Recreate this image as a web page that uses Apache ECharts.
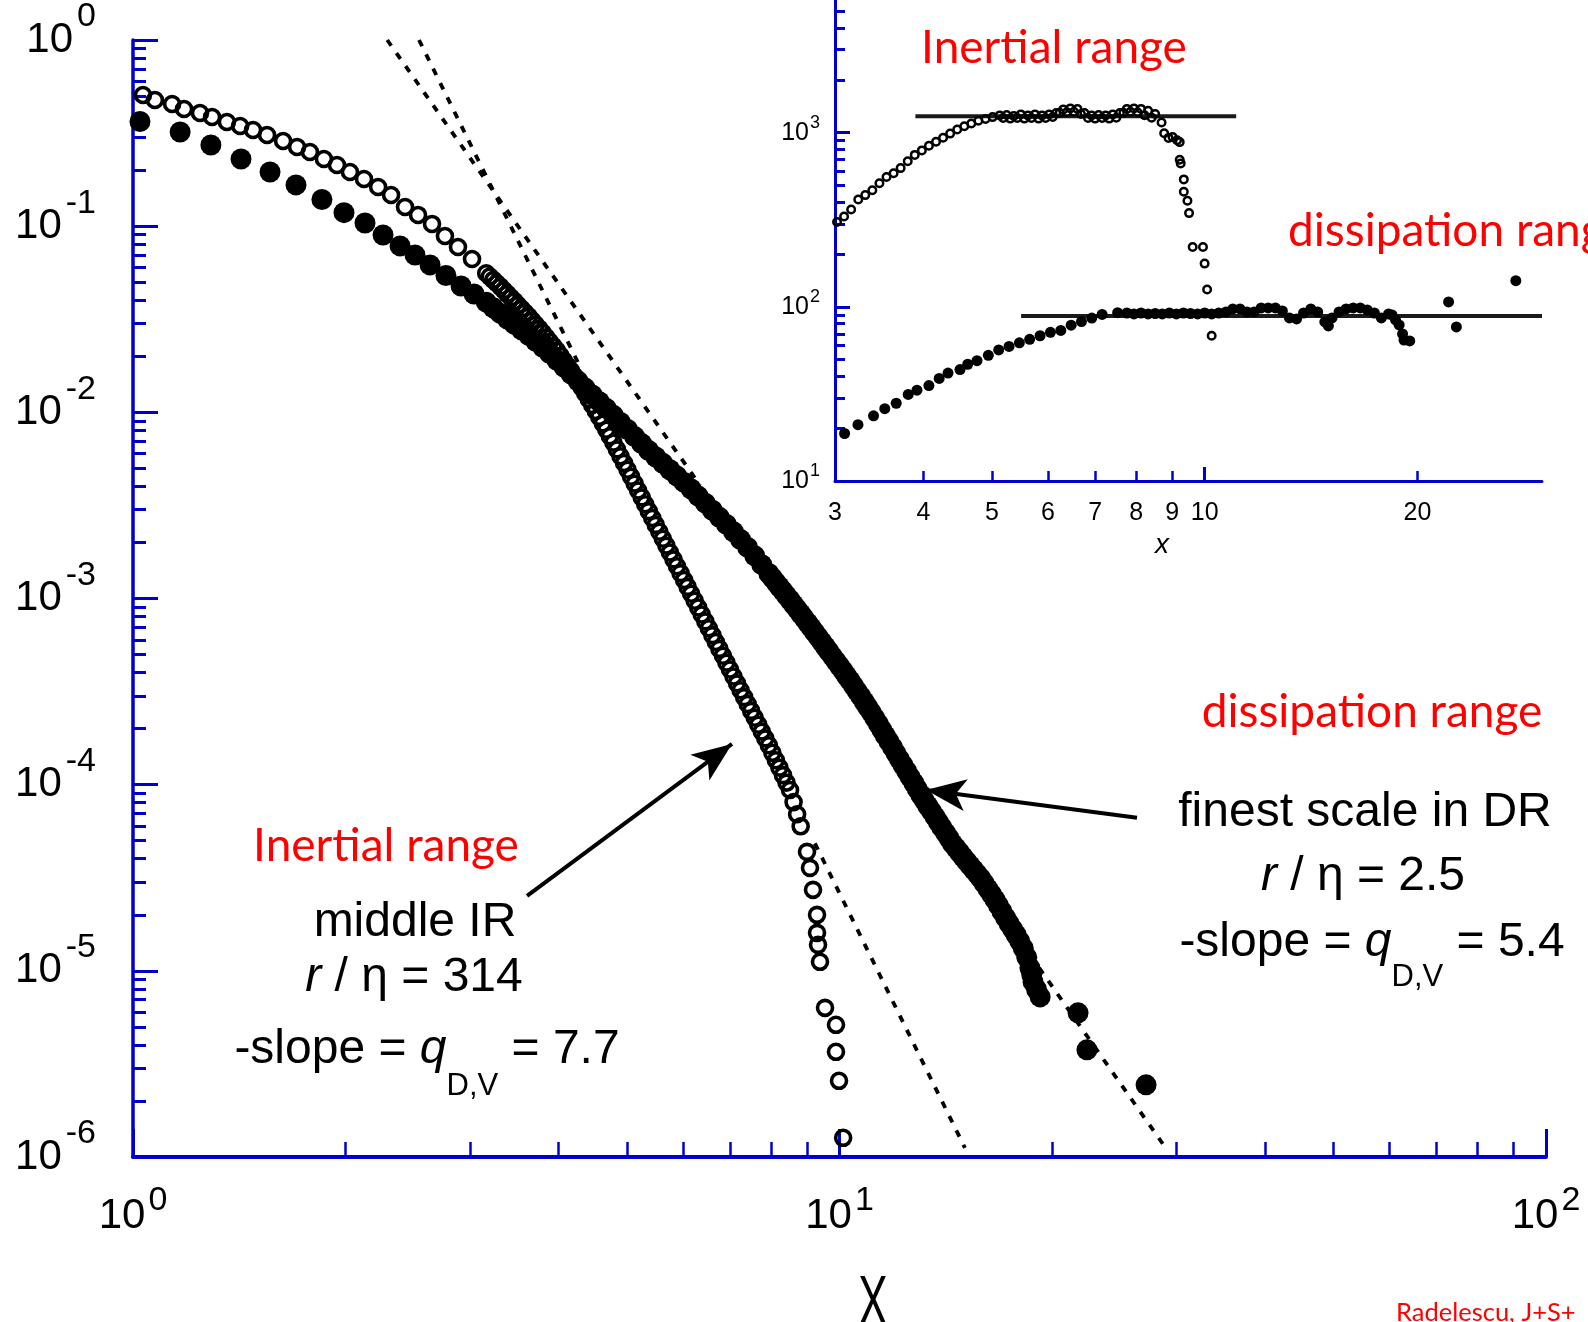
<!DOCTYPE html>
<html>
<head>
<meta charset="utf-8">
<script src="https://cdn.jsdelivr.net/npm/echarts/dist/echarts.min.js"></script>
<style>
  html, body { margin: 0; padding: 0; background: #ffffff; }
  #chart { width: 1588px; height: 1322px; }
</style>
</head>
<body>
<div id="chart"></div>
<script>
// ---------- main panel: PDF tails ----------
// open circles: middle of the inertial range (r/eta = 314)
const openX = [1.033,1.074,1.136,1.181,1.244,1.294,1.358,1.418,1.479,1.548,1.631,1.707,1.780,1.863,1.944,2.028,2.123,2.223,2.319,2.427,2.532,2.650,2.764,2.884,3.019,
  3.162,3.199,3.236,3.273,3.311,3.349,3.388,3.427,3.467,3.507,3.548,3.589,3.631,3.673,3.715,3.758,3.802,3.846,3.890,3.935,
  3.981,4.027,4.074,4.121,4.169,4.217,4.266,4.315,4.365,4.416,4.467,4.519,4.571,4.624,4.677,4.731,4.786,4.841,4.898,4.955,
  5.012,5.070,5.129,5.188,5.248,5.309,5.370,5.432,5.495,5.559,5.623,5.688,5.754,5.821,5.888,5.956,6.026,6.096,6.166,6.237,
  6.310,6.383,6.457,6.532,6.607,6.683,6.761,6.839,6.918,6.998,7.079,7.161,7.244,7.328,7.413,7.499,7.586,7.674,7.762,7.852,
  7.943,8.035,8.128,8.222,8.318,8.414,8.511,8.610,8.710,8.811,
  8.995,9.083,9.173,9.294,9.294,9.324,9.384,9.539,9.886,9.886,9.984,10.12];
const openY = [0.5066,0.4762,0.4532,0.4260,0.4054,0.3859,0.3627,0.3452,0.3286,0.3089,0.2868,0.2662,0.2504,0.2296,0.2131,0.1955,0.1792,0.1624,0.1471,0.1268,0.1149,0.1028,0.0886,0.07732,0.06665,
  0.05588,0.05362,0.05144,0.04935,0.04734,0.04527,0.04328,0.04138,0.03956,0.03774,0.03600,0.03433,0.03276,0.03113,0.02960,0.02814,0.02674,0.02531,0.02395,0.02267,
  0.02144,0.02015,0.01893,0.01779,0.01673,0.01561,0.01456,0.01359,0.01269,0.01178,0.01095,0.01017,0.009448,0.008726,0.008059,0.007444,0.006875,0.006321,0.005812,0.005343,
  0.004913,0.004512,0.004143,0.003805,0.003493,0.003208,0.002947,0.002706,0.002485,0.002282,0.002095,0.001924,0.001767,0.001623,0.001490,0.001369,0.001257,0.001154,0.001060,0.0009734,
  0.0008940,0.0008209,0.0007538,0.0006923,0.0006358,0.0005838,0.0005362,0.0004924,0.0004522,0.0004153,0.0003813,0.0003502,0.0003216,0.0002953,0.0002712,0.0002491,0.0002288,0.0002100,0.0001928,0.0001772,
  0.0001627,0.0001483,0.0001353,0.0001234,0.0001125,0.0001026,0.00009361,0.00008059,0.00006934,0.00005974,
  4.356e-5,3.574e-5,2.723e-5,1.999e-5,1.600e-5,1.379e-5,1.118e-5,6.328e-6,5.129e-6,3.673e-6,2.566e-6,1.268e-6];

// filled circles: finest scale in the dissipation range (r/eta = 2.5)
const solidX = [1.023,1.166,1.289,1.422,1.563,1.701,1.851,1.989,2.130,2.259,2.388,2.507,2.633,2.773,2.913,3.039,
  3.162,3.236,3.311,3.388,3.467,3.548,3.631,3.715,3.802,3.890,3.981,4.074,4.169,4.266,4.365,4.467,4.571,4.677,4.786,4.898,
  5.012,5.129,5.248,5.370,5.495,5.623,5.754,5.888,6.026,6.166,6.310,6.457,6.607,6.761,6.918,7.079,7.244,7.413,7.586,7.762,7.943,
  8.035,8.128,8.222,8.318,8.414,8.511,8.610,8.710,8.811,8.913,9.016,9.120,9.226,9.333,9.441,9.550,9.661,9.772,9.886,10.00,
  10.12,10.23,10.35,10.47,10.59,10.72,10.84,10.96,11.09,11.22,11.35,11.48,11.61,11.75,11.89,12.02,12.16,12.30,12.45,12.59,
  12.74,12.88,13.03,13.18,13.33,13.49,13.65,13.80,13.96,14.13,14.29,14.45,14.62,14.79,14.96,15.14,15.31,15.49,15.67,15.85,
  16.03,16.22,16.41,16.60,16.79,16.98,17.18,17.38,17.58,17.78,17.99,18.20,18.41,
  18.60,18.71,18.79,19.01,19.23,21.76,22.40,27.16];
const solidY = [0.365,0.3206,0.2729,0.2296,0.1955,0.1665,0.1391,0.1182,0.1040,0.0897,0.0783,0.0700,0.0619,0.0543,0.0477,0.0432,
  0.03908,0.03644,0.03398,0.03171,0.02967,0.02776,0.02592,0.02407,0.02235,0.02067,0.01902,0.01751,0.01607,0.01472,0.01350,0.01240,0.01141,0.01050,0.009631,0.008825,
  0.008087,0.007409,0.006791,0.006228,0.005757,0.005321,0.004918,0.004546,0.004202,0.003873,0.003548,0.003251,0.002979,0.002730,0.002501,0.002280,0.002072,0.001882,0.001695,0.001520,0.001362,
  1.290e-3,1.221e-3,1.157e-3,1.096e-3,1.037e-3,9.817e-4,9.274e-4,8.762e-4,8.279e-4,7.821e-4,7.389e-4,6.975e-4,6.577e-4,6.199e-4,5.844e-4,5.509e-4,5.194e-4,4.892e-4,4.607e-4,4.338e-4,
  4.084e-4,3.846e-4,3.621e-4,3.396e-4,3.181e-4,2.979e-4,2.790e-4,2.613e-4,2.446e-4,2.276e-4,2.118e-4,1.970e-4,1.833e-4,1.706e-4,1.586e-4,1.473e-4,1.368e-4,1.271e-4,1.180e-4,1.097e-4,
  1.021e-4,9.491e-5,8.827e-5,8.239e-5,7.704e-5,7.204e-5,6.738e-5,6.300e-5,5.891e-5,5.508e-5,5.152e-5,4.826e-5,4.567e-5,4.322e-5,4.090e-5,3.871e-5,3.672e-5,3.484e-5,3.306e-5,3.137e-5,
  2.948e-5,2.757e-5,2.578e-5,2.411e-5,2.247e-5,2.084e-5,1.932e-5,1.795e-5,1.675e-5,1.562e-5,1.445e-5,1.323e-5,1.182e-5,
  1.038e-5,9.55e-6,8.73e-6,7.943e-6,7.244e-6,5.948e-6,3.764e-6,2.442e-6];

// power-law guides, -slope 7.7 and 5.4 (visible pieces only)
const guideSteepTop = [[2.54, 1.0], [4.28, 0.0180]];
const guideSteepBottom = [[9.23, 4.84e-5], [15.05, 1.12e-6]];
const guideShallowTop = [[2.29, 1.0], [6.35, 4.05e-3]];
const guideShallowBottom = [[18.6, 1.22e-5], [28.9, 1.13e-6]];

// annotation arrows [tail, tip]
const arrowIR = [[3.612, 2.53e-5], [7.044, 1.656e-4]];
const arrowDR = [[26.37, 6.64e-5], [13.26, 9.37e-5]];

// ---------- inset: compensated PDFs ----------
const insetOpenX = [3.020,3.090,3.162,3.236,3.311,3.388,3.467,3.548,3.631,3.715,3.802,3.890,3.981,4.074,4.169,4.266,4.365,4.467,4.571,4.677,
  4.786,4.898,5.012,5.129,5.248,5.370,5.495,5.623,5.754,5.888,6.026,6.166,6.310,6.457,6.607,6.761,6.918,7.079,7.244,7.413,
  7.586,7.762,7.943,8.128,8.318,8.511,
  5.188,5.309,5.432,5.559,5.688,5.821,5.956,6.096,6.237,6.383,6.532,6.683,6.839,6.998,7.161,7.328,7.499,7.674,7.852,8.035,8.222,8.414,
  8.690,8.764,8.889,9.006,9.141,9.219,9.219,9.249,9.343,9.343,9.454,9.504,9.616,9.945,9.998,10.08,10.23];
const insetOpenY = [307.4,330.0,362.6,413.4,438.1,467.5,512.8,557.3,585.3,626.1,685.0,745.7,791.3,841.0,886.6,936.0,988.1,1043,1090,1129,
  1170,1199,1229,1257,1265,1249,1274,1257,1274,1257,1274,1299,1361,1379,1370,1299,1257,1265,1257,1274,
  1299,1370,1379,1370,1336,1282,
  1215,1205,1215,1205,1215,1205,1215,1230,1300,1310,1320,1280,1215,1205,1215,1205,1220,1300,1320,1310,1260,1220,
  1144,993.4,933.5,946,904.3,883.1,698.8,666.5,539.5,457.7,406.9,345.3,220.8,220.8,177.1,125.8,68.2];
const insetSolidX = [3.095,3.233,3.401,3.528,3.662,3.808,3.918,4.073,4.212,4.335,4.507,4.622,4.764,4.943,5.113,5.288,5.469,5.655,5.850,6.051,
  6.259,6.473,6.694,6.923,7.161,7.532,
  7.762,7.943,8.128,8.318,8.511,8.710,8.913,9.120,9.333,9.550,9.772,10.00,10.23,10.47,10.72,10.96,11.22,11.48,11.75,12.02,
  12.30,12.59,12.88,13.18,13.49,13.80,14.13,14.45,14.79,14.96,15.14,15.49,15.85,16.22,16.60,16.98,17.38,17.78,18.20,18.41,
  18.62,18.84,19.05,19.14,19.50,
  22.13,22.70,27.55];
const insetSolidY = [18.74,21.06,23.69,26.02,27.95,31.39,33.22,35.32,38.80,41.68,43.65,46.81,49.09,52.65,56.55,59.23,62.12,65.06,68.23,71.46,
  73.17,78.52,82.35,86.25,90.45,92.62,
  92.2,91.0,92.2,91.0,91.6,91.0,92.2,91.0,92.2,91.6,91.0,92.2,91.0,92.2,93.5,97.3,97.3,93.5,93.5,98.6,
  98.6,98.6,94.7,86.4,85.2,92.2,97.3,93.5,81.9,77.7,86.4,93.5,97.3,98.6,98.6,96.0,92.2,86.4,91.0,89.9,
  84.1,78.7,69.9,64.5,63.7,
  106.7,76.7,141.4];
const insetPlateauIR = [[3.898, 1241], [11.08, 1241]];
const insetPlateauDR = [[5.50, 88.5], [30, 88.5]];

// ---------- tick values ----------
const mainXMajor = [1, 10, 100];
const mainYMajor = [1e-6, 1e-5, 1e-4, 1e-3, 1e-2, 1e-1, 1];
const insetXLabels = [3, 4, 5, 6, 7, 8, 9, 10, 20];
const insetXMajor = [10];
const insetXMinor = [4, 5, 6, 7, 8, 9, 20];
const insetYMajor = [10, 100, 1000];
const insetYLabels = [10, 100, 1000];
const insetYTop = 5781;   // value at the upper edge of the inset frame

function minorTicks(loExp, hiExp) {
  const out = [];
  for (let e = loExp; e < hiExp; e++) {
    for (let k = 2; k <= 9; k++) out.push(+(k * Math.pow(10, e)).toPrecision(3));
  }
  return out;
}

const zip = (xs, ys) => xs.map((x, i) => [x, ys[i]]);

const BLUE = '#0000CD';
const SANS = 'Liberation Sans';
const HUMAN = 'Lato';

const powLabel = v => '{b|10}{s|' + Math.round(Math.log10(v)) + '}';
const richY = {
  b: { fontSize: 42, fontFamily: SANS, color: '#000', lineHeight: 80, verticalAlign: 'middle' },
  s: { fontSize: 34, fontFamily: SANS, color: '#000', lineHeight: 34, verticalAlign: 'top', padding: [0, 0, 0, 4] }
};
const richX = {
  b: { fontSize: 42, fontFamily: SANS, color: '#000', lineHeight: 64, verticalAlign: 'middle' },
  s: { fontSize: 34, fontFamily: SANS, color: '#000', lineHeight: 34, verticalAlign: 'top', padding: [0, 0, 0, 3] }
};
const richInset = {
  b: { fontSize: 25, fontFamily: SANS, color: '#000', lineHeight: 38, verticalAlign: 'middle' },
  s: { fontSize: 18, fontFamily: SANS, color: '#000', lineHeight: 18, verticalAlign: 'top', padding: [0, 0, 0, 1] }
};

function axis(gridIndex, pos, min, max, o) {
  return {
    gridIndex, type: 'log', logBase: 10, min, max, position: pos,
    axisLine: { show: o.line !== false, onZero: false, lineStyle: { color: BLUE, width: o.lineWidth || 3 } },
    axisTick: { show: true, inside: true, length: o.tickLen, lineStyle: { color: BLUE, width: o.tickWidth || 3 }, customValues: o.ticks },
    axisLabel: o.labels ? Object.assign({ show: true, customValues: o.labels }, o.labelOpt) : { show: false },
    splitLine: { show: false },
    minorTick: { show: false },
    minorSplitLine: { show: false }
  };
}

const guide = data => ({
  type: 'line', xAxisIndex: 0, yAxisIndex: 0, data, symbol: 'none', silent: true, z: 2,
  lineStyle: { color: '#000', width: 3.8, type: [7, 9], cap: 'butt' }
});
const plateau = data => ({
  type: 'line', xAxisIndex: 2, yAxisIndex: 2, data, symbol: 'none', silent: true, z: 2,
  lineStyle: { color: '#1a1a1a', width: 4, type: 'solid' }
});

const text = (str, x, y, size, color, family, extra) => ({
  type: 'text', x, y, silent: true,
  style: Object.assign({ text: str, fill: color, font: size + 'px "' + family + '"', align: 'center', verticalAlign: 'middle' }, extra || {})
});
const ratioRich = {
  n: { fontSize: 48, fontFamily: SANS, fill: '#000' },
  i: { fontSize: 48, fontFamily: SANS, fontStyle: 'italic', fill: '#000' }
};

// "-slope = q_{D,V} = value" built from measured pieces, centred on cx
const measureCtx = document.createElement('canvas').getContext('2d');
function slopeLine(cx, cy, value, subDy) {
  const fN = '48px "Liberation Sans"';
  const fI = 'italic 48px "Liberation Sans"';
  const fS = '31px "Liberation Sans"';
  const parts = [
    { t: '-slope = ', f: fN, dy: 0 },
    { t: 'q', f: fI, dy: 0 },
    { t: 'D,V', f: fS, dy: subDy },
    { t: ' = ' + value, f: fN, dy: 0 }
  ];
  const widths = parts.map(p => { measureCtx.font = p.f; return measureCtx.measureText(p.t).width; });
  let x = cx - widths.reduce((a, b) => a + b, 0) / 2;
  return parts.map((p, i) => {
    const el = { type: 'text', x, y: cy + p.dy, silent: true,
      style: { text: p.t, font: p.f, fill: '#000', align: 'left', verticalAlign: 'middle' } };
    x += widths[i];
    return el;
  });
}

const openRing = (size, border) => ({
  symbol: 'circle', symbolSize: size,
  itemStyle: { color: 'rgba(0,0,0,0)', borderColor: '#000', borderWidth: border, opacity: 1 }
});
const solidDot = size => ({ symbol: 'circle', symbolSize: size, itemStyle: { color: '#000', opacity: 1 } });

const chart = echarts.init(document.getElementById('chart'), null, { renderer: 'canvas' });
chart.setOption({
  animation: false,
  backgroundColor: '#ffffff',
  grid: [
    { left: 133, top: 40, width: 1413, height: 1117, containLabel: false },
    { left: 835, top: 0, width: 707, height: 481, containLabel: false }
  ],
  xAxis: [
    axis(0, 'bottom', 1, 100, { lineWidth: 4, tickLen: 28, ticks: mainXMajor, labels: mainXMajor,
      labelOpt: { formatter: powLabel, margin: 27, rich: richX } }),
    axis(0, 'bottom', 1, 100, { line: false, tickLen: 15, tickWidth: 2.5, ticks: minorTicks(0, 2) }),
    axis(1, 'bottom', 3, 30, { lineWidth: 3, tickLen: 14, ticks: insetXMajor, labels: insetXLabels,
      labelOpt: { margin: 20, fontSize: 25, fontFamily: SANS, color: '#000' } }),
    axis(1, 'bottom', 3, 30, { line: false, tickLen: 10, tickWidth: 2.5, ticks: insetXMinor })
  ],
  yAxis: [
    axis(0, 'left', 1e-6, 1, { lineWidth: 3.5, tickLen: 25, ticks: mainYMajor, labels: mainYMajor,
      labelOpt: { formatter: powLabel, margin: 37, rich: richY } }),
    axis(0, 'left', 1e-6, 1, { line: false, tickLen: 13, ticks: minorTicks(-6, 0) }),
    axis(1, 'left', 10, insetYTop, { lineWidth: 3, tickLen: 15, ticks: insetYMajor, labels: insetYLabels,
      labelOpt: { formatter: powLabel, margin: 15, rich: richInset } }),
    axis(1, 'left', 10, insetYTop, { line: false, tickLen: 10, ticks: minorTicks(1, 4).filter(v => v < insetYTop) })
  ],
  series: [
    guide(guideSteepTop), guide(guideSteepBottom), guide(guideShallowTop), guide(guideShallowBottom),
    Object.assign({ type: 'scatter', xAxisIndex: 0, yAxisIndex: 0, data: zip(openX, openY), clip: false, z: 3 }, openRing(15, 3.6)),
    Object.assign({ type: 'scatter', xAxisIndex: 0, yAxisIndex: 0, data: zip(solidX, solidY), clip: false, z: 4 }, solidDot(21), {
      markLine: {
        silent: true, animation: false, symbol: ['none', 'arrow'],
        lineStyle: { color: '#000', width: 4, type: 'solid', opacity: 1 },
        label: { show: false },
        data: [
          [{ coord: arrowIR[0], symbol: 'none' }, { coord: arrowIR[1], symbol: 'arrow', symbolSize: [24, 40] }],
          [{ coord: arrowDR[0], symbol: 'none' }, { coord: arrowDR[1], symbol: 'arrow', symbolSize: [24, 40] }]
        ]
      }
    }),
    plateau(insetPlateauIR), plateau(insetPlateauDR),
    Object.assign({ type: 'scatter', xAxisIndex: 2, yAxisIndex: 2, data: zip(insetOpenX, insetOpenY), clip: false, z: 3 }, openRing(7.5, 2.5)),
    Object.assign({ type: 'scatter', xAxisIndex: 2, yAxisIndex: 2, data: zip(insetSolidX, insetSolidY), clip: false, z: 4 }, solidDot(11))
  ],
  graphic: [
    text('Inertial range', 386, 846, 46, '#ff0000', HUMAN),
    text('middle IR', 415, 923, 48, '#000', SANS),
    text('{i|r}{n| / η = 314}', 414, 978, 48, '#000', SANS, { rich: ratioRich }),
    ...slopeLine(427, 1050, '7.7', 36),
    text('dissipation range', 1372, 712, 46, '#ff0000', HUMAN),
    text('finest scale in DR', 1365, 813, 48, '#000', SANS),
    text('{i|r}{n| / η = 2.5}', 1363, 877, 48, '#000', SANS, { rich: ratioRich }),
    ...slopeLine(1372, 943, '5.4', 34),
    text('Inertial range', 1054, 48, 46, '#ff0000', HUMAN),
    text('dissipation range', 1288, 231, 46, '#ff0000', HUMAN, { align: 'left' }),
    Object.assign(text('X', 873, 1306, 70, '#000', SANS), { scaleX: 0.63 }),
    text('x', 1162, 545, 28, '#000', SANS, { font: 'italic 28px "Liberation Sans"' }),
    text('Radelescu, J+S+', 1396, 1300, 25.5, '#ff0000', HUMAN, { align: 'left', verticalAlign: 'top' })
  ]
});
</script>
</body>
</html>
